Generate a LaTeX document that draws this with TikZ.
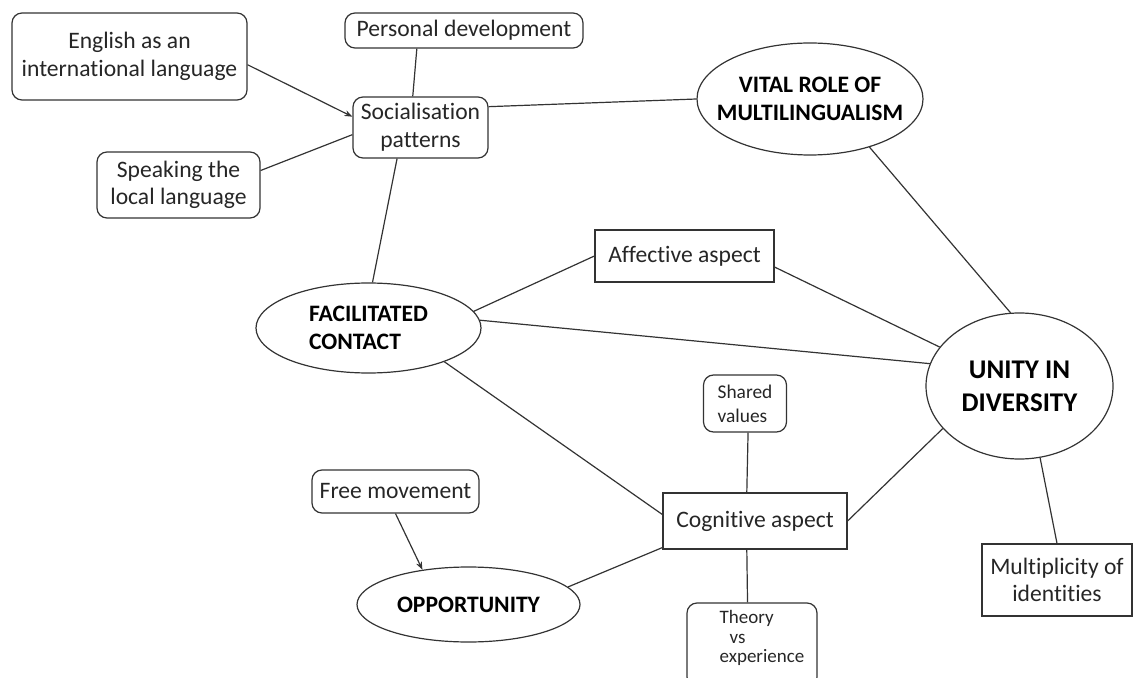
\documentclass[tikz,border=0pt]{standalone}
\usepackage{fontspec}
\setmainfont{Carlito}[Ligatures=NoCommon]
\usetikzlibrary{shapes.geometric,arrows.meta}

\begin{document}
\begin{tikzpicture}[
    x=0.5pt, y=-0.5pt,
    every node/.style={font=\fontsize{11.8}{13.8}\selectfont, text=black!85, inner sep=0pt, align=center},
    rbox/.style={draw=black!80, line width=0.6pt, rounded corners=5pt},
    sbox/.style={draw=black!80, line width=0.6pt},
    small/.style={font=\fontsize{9.7}{12}\selectfont, align=left},
    oval/.style={draw=black!80, line width=0.6pt, ellipse},
    big/.style={font=\fontsize{11.8}{14}\selectfont\bfseries, text=black},
    link/.style={draw=black!80, line width=0.6pt},
    tip/.style={link, -{Stealth[length=4pt,width=3pt]}}
]
\useasboundingbox (0,0) rectangle (1134,678);

% left cluster
\node[rbox, minimum width=117.5pt, minimum height=43.5pt] (eng) at (129.5,56.5) {English as an\\international language};
\node[rbox, minimum width=119pt, minimum height=17.5pt] (pers) at (464,30.5) {Personal development};
\node[rbox, minimum width=67.5pt, minimum height=30.5pt] (soc) at (420.5,127.5) {Socialisation\\patterns};
\node[rbox, minimum width=81.5pt, minimum height=33pt] (speak) at (178.5,185) {Speaking the\\local language};

% main ovals
\node[oval, minimum width=113pt, minimum height=56pt,
      label={[big]center:VITAL ROLE OF\\MULTILINGUALISM}] (vital) at (810,99) {};
\node[oval, minimum width=112.5pt, minimum height=45pt,
      label={[big, align=left]center:FACILITATED\\CONTACT}] (fac) at (368.5,328) {};
\node[oval, minimum width=93.5pt, minimum height=73pt,
      label={[big, font=\fontsize{13.5}{16.5}\selectfont\bfseries]center:UNITY IN\\DIVERSITY}] (unity) at (1019.5,386) {};
\node[oval, minimum width=111.5pt, minimum height=37.5pt,
      label={[big]center:OPPORTUNITY}] (opp) at (468.5,604.5) {};

% aspects
\node[sbox, minimum width=89.5pt, minimum height=26pt] (aff) at (684.5,256) {Affective aspect};
\node[sbox, minimum width=92pt, minimum height=28pt] (cog) at (755,521) {Cognitive aspect};
\node[rbox, small, minimum width=41.5pt, minimum height=28.5pt] (shared) at (745,403.5) {Shared\\values};
\node[rbox, minimum width=65pt, minimum height=42pt,
      label={[small, font=\fontsize{9.5}{9.6}\selectfont, anchor=north, yshift=-4pt, xshift=5pt]north:Theory\\\hspace{5pt}vs\\experience}] (theory) at (752,645) {};
\node[rbox, minimum width=83.5pt, minimum height=21.5pt] (free) at (395.5,491.5) {Free movement};
\node[sbox, minimum width=75pt, minimum height=36pt] (multi) at (1057,580) {Multiplicity of\\identities};

% links
\draw[tip] (eng.-4.6) -- (soc.171);
\draw[link] (pers.-159) -- (soc.104);
\draw[link] (speak.10.4) -- (soc.186);
\draw[link] (soc.17) -- (vital.west);
\draw[link] (soc.-127.6) -- (fac.85.5);
\draw[link] (fac.9.5) -- (aff.west);
\draw[link] (fac.4) -- (unity.166);
\draw[link] (fac.-24) -- (cog.176);
\draw[link] (aff.-7.6) -- (unity.154);
\draw[link] (vital.-39) -- (unity.97);
\draw[link] (cog.east) -- (unity.-151);
\draw[link] (shared.-84) -- (cog.106);
\draw[link] (cog.-106) -- (theory.96.8);
\draw[tip] (free.-90) -- (opp.143);
\draw[link] (opp.10.6) -- (cog.196);
\draw[link] (unity.-74) -- (multi.north);
\end{tikzpicture}
\end{document}
